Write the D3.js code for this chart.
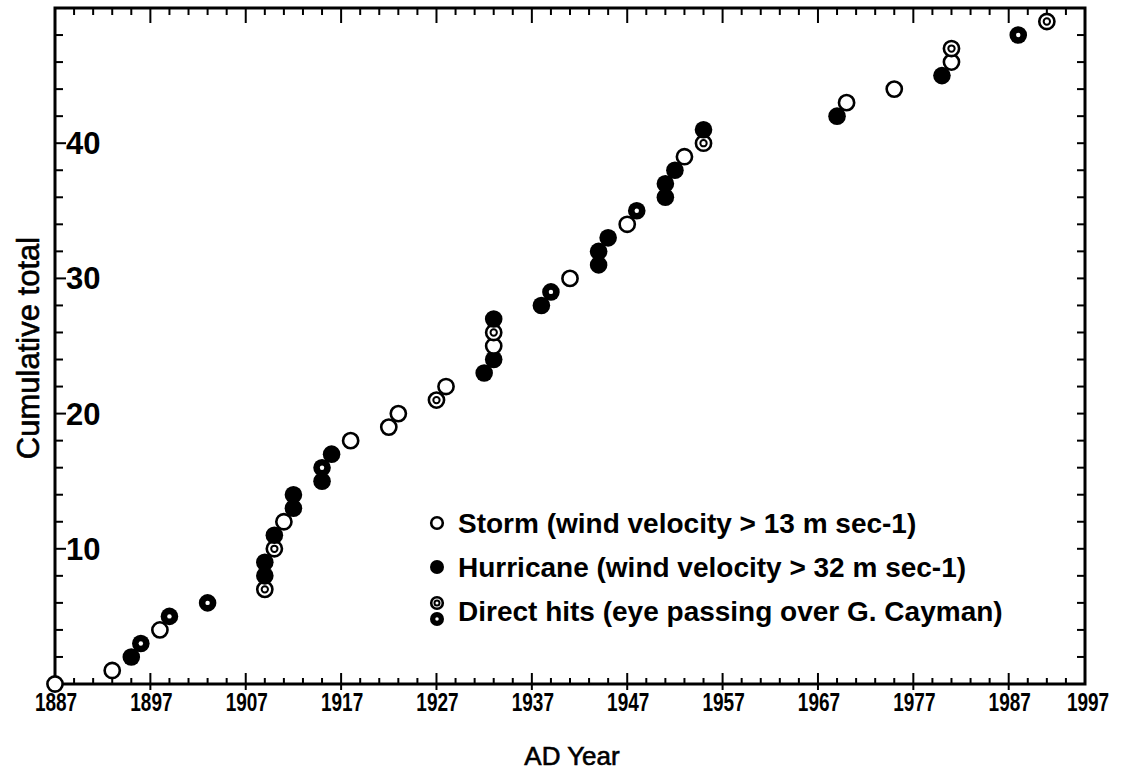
<!DOCTYPE html>
<html>
<head>
<meta charset="utf-8">
<script src="https://cdn.jsdelivr.net/npm/d3@7"></script>
<style>
  html, body { margin: 0; padding: 0; background: white; overflow: hidden; }
  svg { display: block; }
  text { font-family: "Liberation Sans", Arial, sans-serif; fill: black; }
</style>
</head>
<body>
<script>
// Cumulative storms / hurricanes over Grand Cayman

const years = [1887, 1893, 1895, 1896, 1898, 1899, 1903, 1909, 1909, 1909,
               1910, 1910, 1911, 1912, 1912, 1915, 1915, 1916, 1918, 1922,
               1923, 1927, 1928, 1932, 1933, 1933, 1933, 1933, 1938, 1939,
               1941, 1944, 1944, 1945, 1947, 1948, 1951, 1951, 1952, 1953,
               1955, 1955, 1969, 1970, 1975, 1980, 1981, 1981, 1988, 1991];
const totals = [0, 1, 2, 3, 4, 5, 6, 7, 8, 9,
                10, 11, 12, 13, 14, 15, 16, 17, 18, 19,
                20, 21, 22, 23, 24, 25, 26, 27, 28, 29,
                30, 31, 32, 33, 34, 35, 36, 37, 38, 39,
                40, 41, 42, 43, 44, 45, 46, 47, 48, 49];
// S = storm, H = hurricane, SD / HD = direct hit
const kinds = ["S", "S", "H", "HD", "S", "HD", "HD", "SD", "H", "H",
               "SD", "H", "S", "H", "H", "H", "HD", "H", "S", "S",
               "S", "SD", "S", "H", "H", "S", "SD", "H", "H", "HD",
               "S", "H", "H", "H", "S", "HD", "H", "H", "H", "S",
               "SD", "H", "H", "S", "S", "H", "S", "SD", "HD", "SD"];

const xTickLabels = [1887, 1897, 1907, 1917, 1927, 1937, 1947, 1957, 1967, 1977, 1987];
const yTickLabels = [10, 20, 30, 40];
const legendLabels = ["Storm (wind velocity > 13 m sec-1)",
                      "Hurricane (wind velocity > 32 m sec-1)",
                      "Direct hits (eye passing over G. Cayman)"];

const outerWidth = 1122;
const outerHeight = 774;
const margin = {top: 8, right: 37, left: 55, bottom: 90};
const innerWidth = outerWidth - margin.left - margin.right;
const innerHeight = outerHeight - margin.top - margin.bottom;

const svg = d3.select("body").append("svg")
    .attr("width", outerWidth)
    .attr("height", outerHeight);

const g = svg.append("g")
    .attr("transform", "translate(" + margin.left + "," + margin.top + ")");

const x = d3.scaleLinear().domain([1887, 1995]).range([0, innerWidth]);
const y = d3.scaleLinear().domain([0, 50]).range([innerHeight, 0]);

const minorX = d3.range(1887, 1995, 2);
const majorX = xTickLabels;
const minorY = d3.range(0, 51, 2);

// ticks
const ticks = g.append("g").attr("stroke", "black").attr("stroke-width", 2);
ticks.selectAll(".tx-b").data(minorX).join("line")
    .attr("x1", d => x(d)).attr("x2", d => x(d))
    .attr("y1", innerHeight).attr("y2", d => majorX.includes(d) ? innerHeight - 11 : innerHeight - 6);
ticks.selectAll(".tx-bb").data(majorX).join("line")
    .attr("x1", d => x(d)).attr("x2", d => x(d))
    .attr("y1", innerHeight).attr("y2", innerHeight + 6);
ticks.selectAll(".tx-t").data(minorX).join("line")
    .attr("x1", d => x(d)).attr("x2", d => x(d))
    .attr("y1", 0).attr("y2", d => majorX.includes(d) ? 15 : 7);
ticks.selectAll(".ty-l").data(minorY).join("line")
    .attr("y1", d => y(d)).attr("y2", d => y(d))
    .attr("x1", 0).attr("x2", d => yTickLabels.includes(d) ? 11 : 8);
ticks.selectAll(".ty-r").data(minorY).join("line")
    .attr("y1", d => y(d)).attr("y2", d => y(d))
    .attr("x1", innerWidth).attr("x2", innerWidth - 8);

// frame
g.append("rect")
    .attr("width", innerWidth).attr("height", innerHeight)
    .attr("fill", "none").attr("stroke", "black").attr("stroke-width", 3);

// tick labels (condensed look of the original)
g.selectAll(".xl").data(xTickLabels.concat(["1997"])).join("text")
    .attr("transform", (d, i) => "translate(" + (i < xTickLabels.length ? x(d) + 1 : innerWidth + 3) + "," + (innerHeight + 27) + ") scale(0.76,1)")
    .attr("text-anchor", "middle")
    .style("font-weight", "bold").style("font-size", "25px")
    .text(d => d);

g.selectAll(".yl").data(yTickLabels).join("text")
    .attr("x", 11).attr("y", d => y(d) + 11)
    .style("font-weight", "bold").style("font-size", "31px")
    .text(d => d);

// axis titles
svg.append("text")
    .attr("transform", "translate(39," + 348 + ") rotate(-90)")
    .attr("text-anchor", "middle")
    .style("font-size", "31px").attr("stroke", "black").attr("stroke-width", 0.6)
    .text("Cumulative total");
svg.append("text")
    .attr("x", 572).attr("y", 765)
    .attr("text-anchor", "middle")
    .style("font-size", "26px").attr("stroke", "black").attr("stroke-width", 0.6)
    .text("AD Year");

// markers
function drawMarker(sel, kind, r) {
    if (kind === "S" || kind === "SD") {
        sel.append("circle").attr("r", r - 1.2).attr("fill", "white")
            .attr("stroke", "black").attr("stroke-width", 2.6);
        if (kind === "SD") {
            sel.append("circle").attr("r", r * 0.36).attr("fill", "white")
                .attr("stroke", "black").attr("stroke-width", 2);
        }
    } else {
        sel.append("circle").attr("r", r).attr("fill", "black");
        if (kind === "HD") {
            sel.append("circle").attr("r", r * 0.25).attr("fill", "white");
        }
    }
}

const points = years.map((yr, i) => ({year: yr, total: totals[i], kind: kinds[i]}));

g.selectAll(".pt").data(points).join("g")
    .attr("class", "pt")
    .attr("transform", d => "translate(" + x(d.year) + "," + y(d.total) + ")")
    .each(function(d) { drawMarker(d3.select(this), d.kind, 8.8); });

// legend
const legend = g.append("g").attr("transform", "translate(" + (437 - margin.left) + "," + (523 - margin.top) + ")");
const legendRows = [["S"], ["H"], ["SD", "HD"]];
legendRows.forEach((row, i) => {
    const rowG = legend.append("g").attr("transform", "translate(0," + (i * 44) + ")");
    row.forEach((k, j) => {
        const m = rowG.append("g").attr("transform", "translate(0," + (row.length > 1 ? (j * 16 - 8) : 0) + ")");
        drawMarker(m, k, 7);
    });
    rowG.append("text")
        .attr("x", 21).attr("y", 10)
        .style("font-size", "28px").style("font-weight", "bold")
        .text(legendLabels[i]);
});
</script>
</body>
</html>
